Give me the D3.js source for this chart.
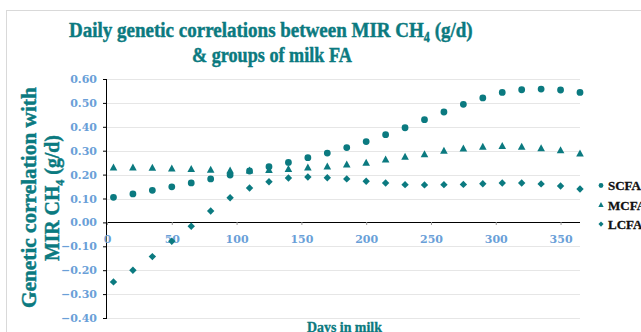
<!DOCTYPE html>
<html>
<head>
<meta charset="utf-8">
<script src="https://cdn.jsdelivr.net/npm/d3@7"></script>
<style>
  body { margin: 0; background: #fff; }
  svg { display: block; }
</style>
</head>
<body>
<svg id="chart" width="641" height="332"></svg>
<script>
// days in milk (x) and the three groups of milk FA
var days = [5, 20, 35, 50, 65, 80, 95, 110, 125, 140, 155, 170, 185, 200, 215, 230, 245, 260, 275, 290, 305, 320, 335, 350, 365];
var scfa = [0.105, 0.119, 0.134, 0.149, 0.165, 0.182, 0.198, 0.215, 0.233, 0.251, 0.271, 0.290, 0.313, 0.338, 0.367, 0.396, 0.430, 0.462, 0.494, 0.521, 0.544, 0.555, 0.558, 0.554, 0.544];
var mcfa = [0.230, 0.230, 0.229, 0.226, 0.224, 0.221, 0.218, 0.218, 0.220, 0.224, 0.230, 0.235, 0.243, 0.250, 0.264, 0.275, 0.286, 0.300, 0.310, 0.317, 0.320, 0.317, 0.311, 0.303, 0.289];
var lcfa = [-0.249, -0.200, -0.143, -0.079, -0.016, 0.048, 0.103, 0.144, 0.170, 0.186, 0.190, 0.187, 0.182, 0.172, 0.165, 0.158, 0.157, 0.158, 0.159, 0.162, 0.165, 0.165, 0.161, 0.152, 0.140];
var seriesNames = ["SCFA", "MCFA", "LCFA"];
var xTicks = [0, 50, 100, 150, 200, 250, 300, 350];
var yTicks = [-0.4, -0.3, -0.2, -0.1, 0, 0.1, 0.2, 0.3, 0.4, 0.5, 0.6];

var teal = "#0b7a80";
var tickBlue = "#6a9fd8";
var serif = "'Liberation Serif', 'DejaVu Serif', serif";

var svg = d3.select("#chart");

// chart border
svg.append("rect")
    .attr("x", 6.5).attr("y", 10.5)
    .attr("width", 700).attr("height", 400)
    .attr("fill", "none")
    .attr("stroke", "#d9d9d9");

var x = d3.scaleLinear().domain([0, 365]).range([107, 580]);
var y = d3.scaleLinear().domain([-0.4, 0.6]).range([318, 79]);

// gridlines
svg.append("g")
    .selectAll("line")
    .data(yTicks.filter(function(d){ return d !== 0; }))
    .enter().append("line")
    .attr("x1", x(0)).attr("x2", x(365))
    .attr("y1", function(d){ return Math.round(y(d)) + 0.5; })
    .attr("y2", function(d){ return Math.round(y(d)) + 0.5; })
    .attr("stroke", "#e6e6e6");

// y axis
var yAxis = svg.append("g")
    .attr("transform", "translate(" + x(0) + ",0)")
    .call(d3.axisLeft(y).tickValues(yTicks).tickSize(4).tickPadding(6).tickFormat(d3.format(".2f")));
yAxis.select(".domain").attr("stroke", "#000").attr("d", "M-0.5," + y(0.6) + "V" + y(-0.4));
yAxis.selectAll(".tick line").attr("stroke", "#000");
yAxis.selectAll("text")
    .attr("fill", tickBlue)
    .attr("font-family", "'DejaVu Serif', serif")
    .attr("font-weight", "bold")
    .attr("font-size", 11);

// x axis crossing at zero
var xAxis = svg.append("g")
    .attr("transform", "translate(0," + Math.round(y(0)) + ")")
    .call(d3.axisBottom(x).tickValues(xTicks).tickSize(3).tickPadding(10));
xAxis.select(".domain").attr("stroke", "#000").attr("d", "M" + x(0) + ",0.5H" + x(365));
xAxis.selectAll(".tick line").attr("stroke", "#999");
xAxis.selectAll("text")
    .attr("fill", tickBlue)
    .attr("font-family", "'DejaVu Serif', serif")
    .attr("font-weight", "bold")
    .attr("font-size", 11);

// marker shapes
function markerPath(shape, s){
    if(shape === "circle") return d3.symbol().type(d3.symbolCircle).size(Math.PI * s * s / 4)();
    if(shape === "triangle"){
        var h = s * 0.92;
        return "M0," + (-h * 0.55) + "L" + (s / 2) + "," + (h * 0.45) + "L" + (-s / 2) + "," + (h * 0.45) + "Z";
    }
    var r = s / 2;
    return "M0," + (-r) + "L" + r + ",0L0," + r + "L" + (-r) + ",0Z";
}

var series = [
    {name: seriesNames[0], values: scfa, shape: "circle", size: 6.8},
    {name: seriesNames[1], values: mcfa, shape: "triangle", size: 7.6},
    {name: seriesNames[2], values: lcfa, shape: "diamond", size: 7.4}
];

series.forEach(function(s){
    svg.append("g")
        .selectAll("path")
        .data(days.map(function(d, i){ return {day: d, v: s.values[i]}; }))
        .enter().append("path")
        .attr("d", markerPath(s.shape, s.size))
        .attr("transform", function(d){ return "translate(" + x(d.day) + "," + y(d.v) + ")"; })
        .attr("fill", teal);
});

// legend
var legend = svg.append("g").selectAll("g")
    .data(series)
    .enter().append("g")
    .attr("transform", function(d, i){ return "translate(601," + (185.5 + i * 19.3) + ")"; });
legend.append("path")
    .attr("d", function(d){ return markerPath(d.shape, d.size * 0.7); })
    .attr("fill", teal);
legend.append("text")
    .attr("x", 7).attr("y", 4.8)
    .attr("font-family", serif)
    .attr("font-weight", "bold")
    .attr("font-size", 13)
    .attr("fill", "#111")
    .attr("stroke", "#111")
    .attr("stroke-width", 0.3)
    .text(function(d){ return d.name; });

// squeeze a text horizontally to a given width (title font is narrow in the original)
function fitWidth(sel, width){
    var w = sel.node().getComputedTextLength();
    var k = width / w;
    var t = sel.attr("data-t");
    sel.attr("transform", t + " scale(" + k + ",1)");
}

function boldText(parent, size){
    return parent.append("text")
        .attr("font-family", serif)
        .attr("font-weight", "bold")
        .attr("font-size", size)
        .attr("fill", teal)
        .attr("stroke", teal)
        .attr("stroke-width", 0.45);
}

// title
var t1 = boldText(svg, 22).attr("data-t", "translate(69,37)");
t1.append("tspan").text("Daily genetic correlations between MIR CH");
t1.append("tspan").attr("font-size", 14).attr("dy", 5).text("4");
t1.append("tspan").attr("dy", -5).text(" (g/d)");
fitWidth(t1, 404);

var t2 = boldText(svg, 22).attr("data-t", "translate(192,62)").text("& groups of milk FA");
fitWidth(t2, 160);

// y axis title
var y1 = boldText(svg, 21).attr("data-t", "translate(36,308) rotate(-90)").text("Genetic correlation with");
fitWidth(y1, 221);
var y2 = boldText(svg, 21).attr("data-t", "translate(59,261) rotate(-90)");
y2.append("tspan").text("MIR CH");
y2.append("tspan").attr("font-size", 13).attr("dy", 5).text("4");
y2.append("tspan").attr("dy", -5).text(" (g/d)");
fitWidth(y2, 126);

// x axis title
var xt = boldText(svg, 14).attr("stroke-width", 0.3).attr("data-t", "translate(307,332)").text("Days in milk");
fitWidth(xt, 75);
</script>
</body>
</html>
